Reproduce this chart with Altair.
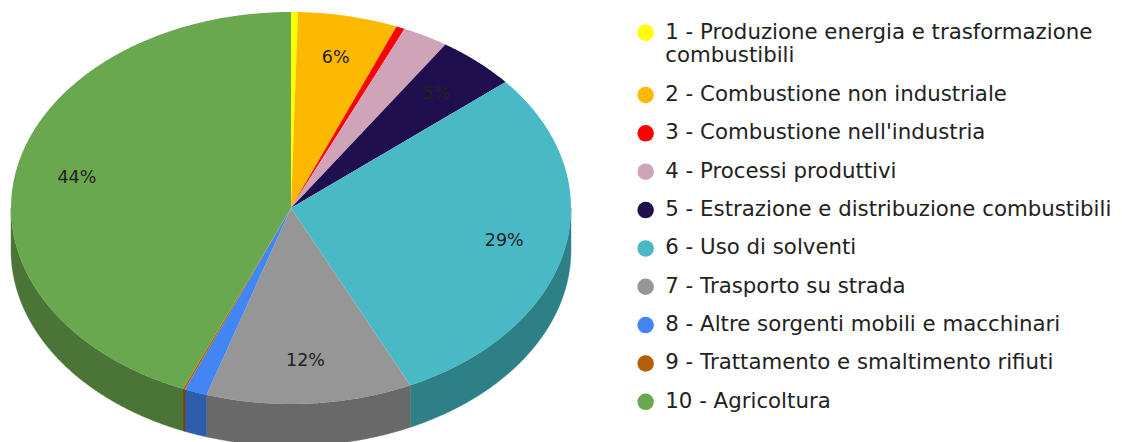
import math
import altair as alt
import pandas as pd

categories = [
    "1 - Produzione energia e trasformazione combustibili",
    "2 - Combustione non industriale",
    "3 - Combustione nell'industria",
    "4 - Processi produttivi",
    "5 - Estrazione e distribuzione combustibili",
    "6 - Uso di solventi",
    "7 - Trasporto su strada",
    "8 - Altre sorgenti mobili e macchinari",
    "9 - Trattamento e smaltimento rifiuti",
    "10 - Agricoltura",
]
shares = [0.4, 5.75, 0.5, 2.65, 4.6, 29.1, 11.88, 1.3, 0.12, 43.7]
labels = ["", "6%", "", "", "5%", "29%", "12%", "", "", "44%"]
top_colors = ["#ffff00", "#fdb900", "#ff0000", "#d0a4b8", "#1f0f4f",
              "#48b9c5", "#969696", "#4285f4", "#b45f06", "#6aa84f"]
side_colors = ["#b2b200", "#b18200", "#b20000", "#927381", "#160a37",
               "#2e8087", "#696969", "#2e5dab", "#7e4204", "#4a7537"]

SQUASH = 0.7     # ellipse ratio of the tilted disc
DEPTH = 42 / 280  # wall height in disc radii
LABEL_R = 0.78


def pt(t, r=1.0, drop=0.0):
    return [r * math.sin(t), r * SQUASH * math.cos(t) - drop]


def arc(a, b):
    n = max(2, int((b - a) / 0.005))
    return [a + (b - a) * i / n for i in range(n + 1)]


total = sum(shares)
tops, sides, text_rows = [], [], []
acc = 0.0
for name, s, lab, sc in zip(categories, shares, labels, side_colors):
    a = acc / total * 2 * math.pi
    acc += s
    b = acc / total * 2 * math.pi
    ring = [[0.0, 0.0]] + [pt(t) for t in arc(a, b)] + [[0.0, 0.0]]
    tops.append({"type": "Feature", "properties": {"name": name},
                 "geometry": {"type": "Polygon", "coordinates": [ring]}})
    lo, hi = max(a, math.pi / 2), min(b, 3 * math.pi / 2)
    if hi > lo:
        ts = arc(lo, hi)
        wall = [pt(t) for t in ts] + [pt(t, drop=DEPTH) for t in reversed(ts)]
        wall.append(wall[0])
        sides.append({"type": "Feature", "properties": {"name": name, "shade": sc},
                      "geometry": {"type": "Polygon", "coordinates": [wall]}})
    if lab:
        m = pt((a + b) / 2, LABEL_R)
        text_rows.append({"lon": m[0], "lat": m[1], "label": lab})


def feats(features):
    return alt.InlineData(values={"type": "FeatureCollection", "features": features},
                          format=alt.DataFormat(property="features", type="json"))


wall_layer = alt.Chart(feats(sides)).mark_geoshape(strokeWidth=0.4).encode(
    fill=alt.Fill("properties.shade:N", scale=None),
    stroke=alt.Stroke("properties.shade:N", scale=None),
)

top_layer = alt.Chart(feats(tops)).mark_geoshape(strokeWidth=0).encode(
    fill=alt.Fill(
        "properties.name:N",
        scale=alt.Scale(domain=categories, range=top_colors),
        legend=alt.Legend(
            title=None,
            orient="none",
            legendX=627,
            legendY=14,
            symbolType="circle",
            symbolSize=272,
            symbolStrokeWidth=0,
            labelFont="DejaVu Sans",
            labelFontSize=21.3,
            labelColor="#222222",
            labelLimit=520,
            labelOffset=9,
            rowPadding=16.35,
            padding=0,
            labelExpr="indexof(datum.label, '1 - ') === 0 ? ['1 - Produzione energia e trasformazione', 'combustibili'] : datum.label",
        ),
    )
)

text_layer = alt.Chart(pd.DataFrame(text_rows)).mark_text(
    font="DejaVu Sans", fontSize=17.5, color="#222222"
).encode(longitude="lon:Q", latitude="lat:Q", text="label:N")

chart = (
    alt.layer(wall_layer, top_layer, text_layer)
    .project(type="identity", reflectY=True, scale=280, translate=[283, 200])
    .properties(width=1106, height=434, padding=0, autosize=alt.AutoSizeParams(type="none"),
                background="white")
    .configure_view(stroke=None)
)

chart.save("out.html", embed_options={"renderer": "svg", "actions": False})
